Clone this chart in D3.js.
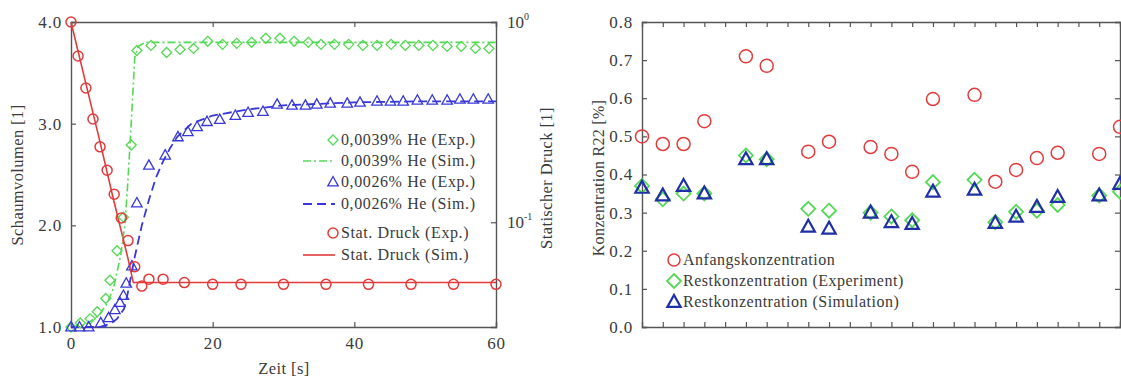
<!DOCTYPE html>
<html><head><meta charset="utf-8">
<script src="https://cdn.jsdelivr.net/npm/d3@7"></script>
<style>
html,body{margin:0;padding:0;background:#fff;}
svg{display:block;font-family:"Liberation Serif","DejaVu Serif",serif;}
</style></head>
<body>
<svg id="c" width="1121" height="381"></svg>
<script>
// ---------- Left chart data ----------
const green39ExpT = [0,1.3,2.7,3.7,4.9,5.5,6.5,7.4,8.5,9.3,11.3,13.5,15.4,17.3,19.3,21.4,23.4,25.5,27.5,29.5,31.5,33.5,35.3,37.2,39.2,41.2,43.2,45.2,47.2,49.1,51.1,53.1,55.1,57.1,59.0];
const green39ExpV = [1.0,1.04,1.08,1.15,1.28,1.46,1.75,2.08,2.79,3.72,3.77,3.70,3.73,3.74,3.81,3.78,3.79,3.80,3.84,3.84,3.81,3.80,3.78,3.78,3.78,3.77,3.77,3.78,3.77,3.77,3.77,3.76,3.76,3.74,3.74];
const green39SimT = [0,2,4,5,6,7,7.6,8,8.5,9,9.5,10.5,60];
const green39SimV = [1.0,1.02,1.12,1.22,1.38,1.7,2.0,2.4,3.0,3.65,3.76,3.80,3.80];
const blue26ExpT = [0,1.2,2.5,4.2,5.3,6.2,6.9,7.4,7.8,8.6,9.3,11.0,13.3,15.1,16.5,17.8,19.2,21.0,23.2,25.0,27.1,29.1,31.2,33.1,34.7,36.6,39.0,40.8,43.2,45.1,46.9,48.9,51.0,53.1,54.9,56.8,58.9];
const blue26ExpV = [1.0,1.0,1.0,1.04,1.09,1.17,1.24,1.31,1.43,1.6,2.22,2.59,2.69,2.87,2.92,2.97,3.02,3.04,3.08,3.11,3.12,3.19,3.18,3.18,3.19,3.20,3.20,3.21,3.22,3.22,3.22,3.23,3.23,3.23,3.24,3.24,3.24];
const blue26SimT = [0,4,5.5,6.5,7.5,8,9,10,11,12,13,14,15,17,20,25,30,40,50,60];
const blue26SimV = [1.0,1.0,1.03,1.08,1.18,1.33,1.69,2.0,2.25,2.47,2.63,2.76,2.87,3.0,3.08,3.14,3.18,3.21,3.22,3.22];
const pressExpT = [0,1,2.1,3.1,4.1,5.1,6.1,7.1,8.05,9.0,10,11,13,16,20,24,30,36,42,48,54,60];
const pressExpV = [1.0,0.676,0.468,0.328,0.238,0.182,0.138,0.105,0.081,0.060,0.048,0.052,0.052,0.050,0.049,0.049,0.049,0.049,0.049,0.049,0.049,0.049];
const pressSimT = [0,2,4,6,8,8.8,60];
const pressSimV = [1.0,0.51,0.26,0.13,0.067,0.050,0.050];
const leftYTicks = [1,2,3,4];
const leftXTicks = [0,20,40,60];
const leftLegend = ["0,0039% He (Exp.)","0,0039% He (Sim.)","0,0026% He (Exp.)","0,0026% He (Sim.)","Stat. Druck (Exp.)","Stat. Druck (Sim.)"];

// ---------- Right chart data ----------
const runIdx = [0,1,2,3,5,6,8,9,11,12,13,14,16,17,18,19,20,22,23];
const anfang = [0.50,0.48,0.48,0.54,0.71,0.685,0.46,0.486,0.472,0.454,0.407,0.598,0.609,0.381,0.412,0.443,0.457,0.454,0.525];
const restExp = [0.37,0.335,0.35,0.35,0.45,0.44,0.31,0.305,0.30,0.29,0.28,0.38,0.386,0.275,0.302,0.305,0.32,0.345,0.355];
const restSim = [0.365,0.345,0.37,0.35,0.44,0.44,0.263,0.258,0.30,0.275,0.27,0.355,0.36,0.273,0.289,0.315,0.341,0.345,0.375];
const rightYTicks = [0,0.1,0.2,0.3,0.4,0.5,0.6,0.7,0.8];
const rightLegend = ["Anfangskonzentration","Restkonzentration (Experiment)","Restkonzentration (Simulation)"];

const RED="#e23b3b", GREEN="#55d855", BLUE="#3838d8", NAVY="#1f2fa6", AX="#555", TX="#3a3a3a";

const svg = d3.select("#c");

function circle(g,x,y,r,col,w){g.append("circle").attr("cx",x).attr("cy",y).attr("r",r).attr("fill","none").attr("stroke",col).attr("stroke-width",w);}
function diamond(g,x,y,r,col,w){g.append("path").attr("d",`M${x},${y-r}L${x+r},${y}L${x},${y+r}L${x-r},${y}Z`).attr("fill","none").attr("stroke",col).attr("stroke-width",w);}
function tri(g,x,y,r,col,w){g.append("path").attr("d",`M${x},${y-r}L${x+r*0.95},${y+r*0.7}L${x-r*0.95},${y+r*0.7}Z`).attr("fill","none").attr("stroke",col).attr("stroke-width",w);}
function styleTicks(g){
  g.selectAll(".domain").attr("stroke",AX).attr("stroke-width",1.4);
  g.selectAll(".tick line").attr("stroke",AX).attr("stroke-width",1.2);
  g.selectAll(".tick text").attr("font-size",17).attr("fill",TX).attr("letter-spacing","0.8px").attr("font-family","Liberation Serif, serif");
}

// ================= LEFT CHART =================
const xL = d3.scaleLinear().domain([0,60]).range([71,496]);
const yL = d3.scaleLinear().domain([1,4]).range([327,22]);
const yP = d3.scaleLog().domain([0.03,1]).range([327,22]);
const L = svg.append("g");

L.append("g").attr("transform","translate(0,327)").call(d3.axisBottom(xL).tickValues(leftXTicks).tickSize(-5).tickPadding(10).tickFormat(d3.format("d")));
L.append("g").attr("transform","translate(0,22)").call(d3.axisTop(xL).tickValues(leftXTicks).tickSize(-5).tickFormat(""));
L.append("g").attr("transform","translate(71,0)").call(d3.axisLeft(yL).tickValues(leftYTicks).tickSize(-5).tickPadding(9).tickFormat(d3.format(".1f")));
L.append("g").attr("transform","translate(496,0)").call(d3.axisRight(yP).tickValues([0.1,1]).tickSize(-5).tickFormat(""));
styleTicks(L);

[[1,"0"],[0.1,"-1"]].forEach(([v,e])=>{
  const t=L.append("text").attr("x",507).attr("y",yP(v)+6).attr("font-size",17).attr("fill",TX);
  t.append("tspan").text("10");
  t.append("tspan").attr("dy",-8).attr("font-size",10).text(e);
});
L.append("text").attr("transform","translate(23,175) rotate(-90)").attr("text-anchor","middle").attr("font-size",16.5).attr("letter-spacing","0.4px").attr("fill",TX).text("Schaumvolumen [1]");
L.append("text").attr("transform","translate(552,178) rotate(-90)").attr("text-anchor","middle").attr("font-size",16.5).attr("letter-spacing","0.4px").attr("fill",TX).text("Statischer Druck [1]");
L.append("text").attr("x",284).attr("y",374).attr("text-anchor","middle").attr("font-size",16.5).attr("letter-spacing","0.4px").attr("fill",TX).text("Zeit [s]");

const plotL = L.append("g");
const line = (xs,ys,ysc)=>d3.line().x((d,i)=>xL(xs[i])).y((d,i)=>ysc(ys[i]))(xs);
plotL.append("path").attr("d",line(pressSimT,pressSimV,yP)).attr("fill","none").attr("stroke",RED).attr("stroke-width",1.6);
plotL.append("path").attr("d",line(green39SimT,green39SimV,yL)).attr("fill","none").attr("stroke",GREEN).attr("stroke-width",1.6).attr("stroke-dasharray","8,3,2,3");
plotL.append("path").attr("d",line(blue26SimT,blue26SimV,yL)).attr("fill","none").attr("stroke",BLUE).attr("stroke-width",1.8).attr("stroke-dasharray","9,5");
green39ExpT.forEach((t,i)=>diamond(plotL,xL(t),yL(green39ExpV[i]),5,GREEN,1.3));
blue26ExpT.forEach((t,i)=>tri(plotL,xL(t),yL(blue26ExpV[i]),5.5,BLUE,1.3));
pressExpT.forEach((t,i)=>circle(plotL,xL(t),yP(pressExpV[i]),5,RED,1.5));

const legY=[140,161,182,204,233,255];
const lg = L.append("g");
leftLegend.forEach((s,i)=>lg.append("text").attr("x",341).attr("y",legY[i]+5).attr("font-size",16).attr("letter-spacing","0.6px").attr("fill",TX).text(s));
diamond(lg,333,legY[0],5,GREEN,1.3);
lg.append("line").attr("x1",303).attr("x2",335).attr("y1",legY[1]).attr("y2",legY[1]).attr("stroke",GREEN).attr("stroke-width",1.6).attr("stroke-dasharray","8,3,2,3");
tri(lg,333,legY[2],5.5,BLUE,1.3);
lg.append("line").attr("x1",303).attr("x2",335).attr("y1",legY[3]).attr("y2",legY[3]).attr("stroke",BLUE).attr("stroke-width",1.8).attr("stroke-dasharray","9,5");
circle(lg,333,legY[4],5,RED,1.5);
lg.append("line").attr("x1",303).attr("x2",335).attr("y1",legY[5]).attr("y2",legY[5]).attr("stroke",RED).attr("stroke-width",1.6);

// ================= RIGHT CHART =================
const xR = d3.scaleLinear().domain([0,23]).range([642,1120]);
const yR = d3.scaleLinear().domain([0,0.8]).range([327,22]);
const R = svg.append("g");
const inner = d3.range(1,23);
R.append("g").attr("transform","translate(0,327)").call(d3.axisBottom(xR).tickValues(inner).tickSize(-5).tickFormat(""));
R.append("g").attr("transform","translate(0,22)").call(d3.axisTop(xR).tickValues(inner).tickSize(-5).tickFormat(""));
R.append("g").attr("transform","translate(642,0)").call(d3.axisLeft(yR).tickValues(rightYTicks).tickSize(-5).tickPadding(9).tickFormat(d3.format(".1f")));
R.append("g").attr("transform","translate(1120,0)").call(d3.axisRight(yR).tickValues(rightYTicks).tickSize(-5).tickFormat(""));
styleTicks(R);
R.append("text").attr("transform","translate(604,178) rotate(-90)").attr("text-anchor","middle").attr("font-size",16).attr("letter-spacing","0.3px").attr("fill",TX).text("Konzentration R22 [%]");

const plotR = R.append("g");
runIdx.forEach((k,i)=>{
  circle(plotR,xR(k),yR(anfang[i]),6.5,RED,1.5);
  diamond(plotR,xR(k),yR(restExp[i]),7,GREEN,1.8);
  tri(plotR,xR(k),yR(restSim[i]),7,NAVY,2.2);
});
const rlY=[260,281,302];
const rl = R.append("g");
rightLegend.forEach((s,i)=>rl.append("text").attr("x",683).attr("y",rlY[i]+5).attr("font-size",16).attr("letter-spacing","0.5px").attr("fill",TX).text(s));
circle(rl,674,rlY[0],6,RED,1.5);
diamond(rl,674,rlY[1],7,GREEN,1.8);
tri(rl,674,rlY[2],7,NAVY,2.2);
</script>
</body></html>
